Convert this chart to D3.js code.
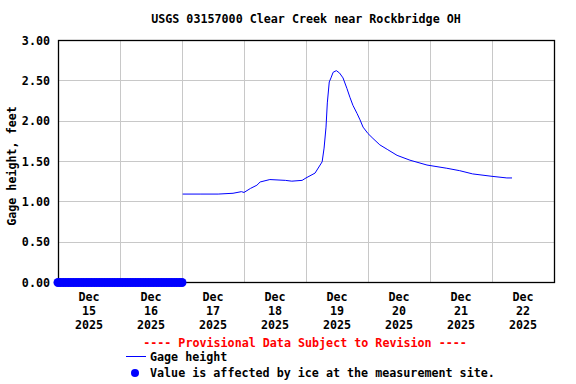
<!DOCTYPE html>
<html>
<head>
<meta charset="utf-8">
<script src="https://cdn.jsdelivr.net/npm/d3@7"></script>
<style>
  body { margin: 0; background: #fff; }
  text { font-family: "DejaVu Sans Mono", monospace; font-weight: bold; font-size: 11.7px; fill: #000; }
</style>
</head>
<body>
<div id="chart"></div>
<script>
// chart data
const chartTitle = "USGS 03157000 Clear Creek near Rockbridge OH";
const yLabel = "Gage height, feet";
const yTicks = [0, 0.5, 1, 1.5, 2, 2.5, 3];
const dayTicks = ["2025-12-15", "2025-12-16", "2025-12-17", "2025-12-18", "2025-12-19", "2025-12-20", "2025-12-21", "2025-12-22"];

const gageTimes = [
    "2025-12-17 00:15", "2025-12-17 07:00", "2025-12-17 14:00", "2025-12-17 19:45", "2025-12-17 23:00",
    "2025-12-18 00:00", "2025-12-18 02:30", "2025-12-18 05:00", "2025-12-18 06:15", "2025-12-18 10:00",
    "2025-12-18 16:00", "2025-12-18 18:30", "2025-12-18 22:30", "2025-12-19 00:00", "2025-12-19 03:30",
    "2025-12-19 06:15", "2025-12-19 07:00", "2025-12-19 07:45", "2025-12-19 08:15", "2025-12-19 09:00",
    "2025-12-19 09:40", "2025-12-19 10:30", "2025-12-19 11:45", "2025-12-19 13:00", "2025-12-19 14:20",
    "2025-12-19 15:50", "2025-12-19 17:00", "2025-12-19 18:10", "2025-12-19 19:45", "2025-12-19 20:55",
    "2025-12-19 22:05", "2025-12-20 00:00", "2025-12-20 01:55", "2025-12-20 04:35", "2025-12-20 07:40",
    "2025-12-20 11:15", "2025-12-20 16:15", "2025-12-20 22:50", "2025-12-21 06:30", "2025-12-21 11:30",
    "2025-12-21 16:30", "2025-12-22 00:00", "2025-12-22 05:45", "2025-12-22 07:45"
];
const gageValues = [
    1.09, 1.09, 1.09, 1.10, 1.12,
    1.11, 1.16, 1.20, 1.24, 1.27,
    1.26, 1.25, 1.26, 1.29, 1.35,
    1.49, 1.66, 1.92, 2.22, 2.48,
    2.53, 2.60, 2.62, 2.59, 2.53,
    2.40, 2.29, 2.19, 2.09, 2.01,
    1.92, 1.84, 1.78, 1.70, 1.64,
    1.57, 1.51, 1.45, 1.41, 1.38,
    1.34, 1.31, 1.29, 1.29
];

// ice-affected readings, hours after 2025-12-15 00:00, all reported at 0.00
const iceHours = [0, 1, 2, 3, 4, 5, 6, 7, 8, 9, 10, 11, 12, 13, 14, 15, 16, 17, 18, 19, 20, 21, 22, 23, 24,
    25, 26, 27, 28, 29, 30, 31, 32, 33, 34, 35, 36, 37, 38, 39, 40, 41, 42, 43, 44, 45, 46, 47, 48];
const iceValues = iceHours.map(() => 0);

const width = 576, height = 384;
const plot = { left: 58, right: 554, top: 40, bottom: 282 };

const parseTime = d3.timeParse("%Y-%m-%d %H:%M");
const parseDay = d3.timeParse("%Y-%m-%d");
const start = parseDay("2025-12-15");

const x = d3.scaleTime()
    .domain([start, d3.timeDay.offset(start, 8)])
    .range([plot.left, plot.right]);

const y = d3.scaleLinear()
    .domain([0, 3])
    .range([plot.bottom, plot.top]);

const svg = d3.select("#chart")
    .append("svg")
    .attr("width", width)
    .attr("height", height);

svg.append("text")
    .attr("x", 306)
    .attr("y", 23)
    .attr("text-anchor", "middle")
    .text(chartTitle);

// grid
svg.append("g")
    .selectAll("line")
    .data(yTicks.slice(1, -1))
    .enter()
    .append("line")
    .attr("x1", plot.left).attr("x2", plot.right)
    .attr("y1", d => Math.round(y(d)) + 0.5)
    .attr("y2", d => Math.round(y(d)) + 0.5)
    .attr("stroke", "#c8c8c8");

svg.append("g")
    .selectAll("line")
    .data(dayTicks.slice(1).map(parseDay))
    .enter()
    .append("line")
    .attr("x1", d => Math.round(x(d)) + 0.5)
    .attr("x2", d => Math.round(x(d)) + 0.5)
    .attr("y1", plot.top).attr("y2", plot.bottom)
    .attr("stroke", "#c8c8c8");

svg.append("rect")
    .attr("x", plot.left + 0.5)
    .attr("y", plot.top + 0.5)
    .attr("width", plot.right - plot.left)
    .attr("height", plot.bottom - plot.top)
    .attr("fill", "none")
    .attr("stroke", "#000")
    .attr("stroke-width", 1.3);

// y tick labels
svg.append("g")
    .selectAll("text")
    .data(yTicks)
    .enter()
    .append("text")
    .attr("x", 50)
    .attr("y", d => y(d) + 4.5)
    .attr("text-anchor", "end")
    .text(d3.format(".2f"));

svg.append("text")
    .attr("transform", `translate(16, 166) rotate(-90)`)
    .attr("text-anchor", "middle")
    .text(yLabel);

// x labels at noon of each day
const dayFmt = [d3.timeFormat("%b"), d3.timeFormat("%d"), d3.timeFormat("%Y")];
const dayG = svg.append("g")
    .selectAll("g")
    .data(dayTicks.map(parseDay))
    .enter()
    .append("g")
    .attr("transform", d => `translate(${x(d3.timeHour.offset(d, 12))}, 0)`);

dayFmt.forEach((fmt, i) => {
    dayG.append("text")
        .attr("y", 301 + i * 14)
        .attr("text-anchor", "middle")
        .text(d => fmt(d));
});

// ice points
svg.append("g")
    .selectAll("circle")
    .data(iceHours)
    .enter()
    .append("circle")
    .attr("cx", d => x(d3.timeHour.offset(start, d)))
    .attr("cy", (d, i) => y(iceValues[i]) + 0.5)
    .attr("r", 4.5)
    .attr("fill", "#0000ff");

// gage height line
const gageData = gageTimes.map((t, i) => ({ time: parseTime(t), value: gageValues[i] }));
const line = d3.line()
    .x(d => x(d.time))
    .y(d => y(d.value));

svg.append("path")
    .datum(gageData)
    .attr("d", line)
    .attr("fill", "none")
    .attr("stroke", "#0000ff")
    .attr("stroke-width", 1);

// footer
svg.append("text")
    .attr("x", 305)
    .attr("y", 347)
    .attr("text-anchor", "middle")
    .style("fill", "#ff0000")
    .text("---- Provisional Data Subject to Revision ----");

svg.append("line")
    .attr("x1", 126).attr("x2", 146)
    .attr("y1", 356.5).attr("y2", 356.5)
    .attr("stroke", "#0000ff");

svg.append("text")
    .attr("x", 150)
    .attr("y", 361)
    .text("Gage height");

svg.append("circle")
    .attr("cx", 135)
    .attr("cy", 373)
    .attr("r", 4)
    .attr("fill", "#0000ff");

svg.append("text")
    .attr("x", 150)
    .attr("y", 377)
    .text("Value is affected by ice at the measurement site.");
</script>
</body>
</html>
